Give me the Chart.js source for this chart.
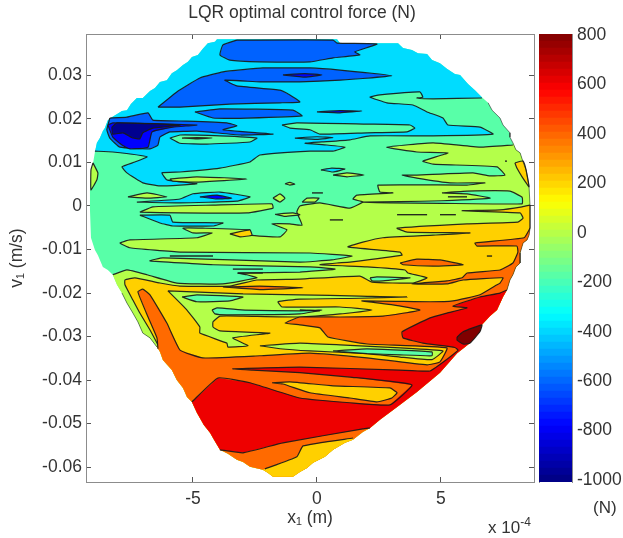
<!DOCTYPE html>
<html><head><meta charset="utf-8">
<script src="https://cdn.jsdelivr.net/npm/chart.js@4"></script>
<style>
html,body{margin:0;padding:0;background:#fff;width:623px;height:538px;overflow:hidden}
canvas{position:absolute;top:0;filter:blur(.4px)}
#main{left:0}#bar{left:530px}
.t{position:absolute;font:17px "Liberation Sans",Arial,sans-serif;color:#333;white-space:nowrap}
sup{font-size:12px;line-height:0}
</style></head><body>
<canvas id="main" width="604" height="538"></canvas>
<canvas id="bar" width="93" height="538"></canvas>
<div class="t" style="left:488px;top:518px">x 10<sup>-4</sup></div>
<div class="t" style="left:593px;top:498px">(N)</div>
<script>
// x in 1e-4 m, y in 1e-3 m/s, contour bands in N
const titleText='LQR optimal control force (N)';
const xTicks=[-5,0,5];
const yTicks=[30,20,10,0,-10,-20,-30,-40,-50,-60];
const yTickLabels=['0.03','0.02','0.01','0','-0.01','-0.02','-0.03','-0.04','-0.05','-0.06'];
const barTicks=[800,600,400,200,0,-200,-400,-600,-800,-1000];

// outline of the reachable region, arc by arc, clockwise
const hullTop=[[-8.95,12.4],[-8.87,14.5],[-8.75,15.6],[-8.63,17.2],[-8.55,17.9],[-8.43,19.7],[-8.27,20.4],[-7.86,21.8],[-7.66,22],[-7.5,23.4],[-7.26,24.8],[-7.02,24.8],[-6.73,26.4],[-6.53,27.1],[-6.33,28.5],[-6.05,28.9],[-5.85,30.5],[-5.65,31.2],[-5.4,32.4],[-5.2,33.1],[-5.04,34.2],[-4.8,34.7],[-4.6,36.1],[-4.4,37.4],[-4.11,37.7],[-4.03,38.3],[.81,38.3],[.93,37.4],[3.27,37.4],[3.47,36.3],[3.83,35.8],[4.07,35.1],[4.44,34.9],[4.64,33.5],[4.96,32.8],[5.24,31.5],[5.56,30.3],[5.77,30.1],[6.09,28],[6.37,26.6],[6.65,25]];
const hullR1=[[6.9,23.7],[7.06,22],[7.38,20.2],[7.5,18.6],[7.78,16.8],[7.78,15.8],[7.9,14.5]];
const hullR2=[[7.9,14.5],[8.02,12.9],[8.19,12.2],[8.31,10.1],[8.43,8.3],[8.55,4.4],[8.59,.2]];
const hullR3=[[8.59,.2],[8.59,-5.1]];
const hullR4=[[8.59,-5.1],[8.55,-6.7],[8.47,-7.8],[8.31,-8.5],[8.19,-10.8],[8.19,-13.1],[8.02,-14],[7.9,-15.8],[7.78,-17],[7.66,-19.3]];
const hullR5=[[7.66,-19.3],[7.5,-20.9],[7.26,-23.9],[6.98,-25.3],[6.65,-27.3],[6.57,-28.9],[6.17,-31.5],[5.97,-32.4],[5.65,-33.8],[4.96,-38.3],[4.03,-42.7],[3.23,-46.2],[2.54,-49.1],[2.14,-51]];
const hullB1=[[2.14,-51],[1.85,-51.9],[1.45,-53.7]];
const hullB2=[[1.45,-53.7],[1.13,-54.4],[.65,-56],[.32,-57.6],[-.16,-59],[-.4,-60.2],[-.69,-61.1],[-.97,-62.2],[-1.77,-62.2],[-1.98,-61.3],[-2.18,-60.6]];
const hullB3=[[-2.18,-60.6],[-2.7,-59.9],[-2.98,-58.8],[-3.23,-58.3],[-3.59,-56.9],[-3.91,-56]];
const hullL1=[[-3.91,-56],[-4.15,-53.7],[-4.31,-52.1],[-4.56,-50.3],[-4.84,-47.5],[-5.04,-45]];
const hullL2=[[-5.04,-45],[-5.24,-43.9],[-5.4,-41.8],[-5.65,-40],[-5.85,-37.7],[-6.21,-35.4],[-6.33,-33.5],[-6.45,-32.4]];
const hullL3=[[-6.45,-32.4],[-6.73,-30.3],[-7.02,-29.2],[-7.22,-26.6],[-7.42,-24.6],[-7.66,-22.3],[-7.86,-20]];
const hullL4=[[-7.86,-20],[-8.06,-18.1],[-8.23,-15.8]];
const hullL5=[[-8.23,-15.8],[-8.43,-14.7],[-8.63,-14],[-8.83,-11.3],[-8.95,-10.1],[-9.11,-7.3],[-9.15,-.9],[-9.15,3.7],[-9.07,8.3],[-8.95,12.4]];

// open contours that meet the outline
const cyanEdge=[[6.65,24.8],[4.68,24.6],[4.03,24.8],[4.27,25],[4.15,26.2],[2.54,25.5],[2.14,25],[2.82,23.7],[3.87,23.2],[4.44,21.6],[5.08,20.2],[5.28,18.6],[6.57,18.1],[7.1,16.5],[4.68,16.1],[2.14,16.1],[1.33,15.2],[.2,14.7],[-.48,14.4],[.4,14],[1.13,13.5],[.65,12.6],[-.28,12.6],[-2.3,11.7],[-2.7,10.1],[-3.91,8.7],[-5.52,7.8],[-6.25,7.6],[-6.05,6],[-4.84,5.1],[-6.33,4.6],[-7.02,5.3],[-7.66,7.6],[-7.86,9],[-7.34,10.1],[-6.85,11.3],[-8.23,12.4],[-8.95,12.6]];
const limeEdge=[[7.9,14],[6.57,13.5],[4.68,14.5],[2.82,13.5],[4.03,12.4],[5.28,12.2],[4.27,10.3],[4.68,9.6],[7.26,9],[7.58,7.1],[6.98,6.9],[6.29,7.6],[4.03,7.1],[3.43,7.1],[4.03,6.4],[5.36,5.3],[6.77,5.3],[6.05,4.8],[2.46,4.8],[2.54,3.2],[3.06,3],[1.61,2.5],[1.45,1.6],[1.85,.9],[1.33,-.5],[.12,.7],[-.69,0],[-.81,-1.4],[-.6,-4.4],[-1.09,-4.1],[-1.81,-4.1],[-1.21,-5.5],[-1.49,-7.1],[-2.7,-6.7],[-2.7,-5.5],[-4.6,-5.1],[-5.4,-5.1],[-5,-6.2],[-4.23,-6.2],[-4.84,-7.3],[-7.54,-7.8],[-7.94,-8.5],[-7.54,-9.6],[-5.52,-10.6],[-.28,-10.8],[1.41,-11.5],[.6,-12.4],[-.69,-12.9],[-6.21,-11.9],[-6.73,-12.6],[-4.19,-13.5],[-.28,-14],[.73,-14.5],[-.69,-15.2],[-3.19,-15.4],[-2.82,-15.8],[-2.42,-16.5],[-3.79,-17.9],[-5.65,-17.7],[-6.85,-15.8],[-7.66,-14.7],[-8.23,-15.8]];
const yellowEdge=[[8.59,.2],[8.27,-.2],[7.38,-.9],[5.85,-1.1],[8.19,-1.6],[8.31,-2.8],[8.1,-3.7],[6.05,-4.1],[3.23,-5.1],[3.63,-6],[6.17,-6.2],[4.68,-6.7],[2.66,-7.3],[1.85,-8.3],[1.25,-9.4],[3.35,-10.6],[3.43,-11.3],[1.33,-12.9],[.81,-13.1],[.12,-13.5],[2.02,-14],[3.55,-14.7],[3.67,-15.4],[4.44,-16.5],[3.87,-17.7],[2.22,-17.5],[1.73,-16.1],[-.69,-16.8],[-2.42,-17],[-3.51,-18.4],[-5.52,-18.4],[-6.33,-17.7],[-7.34,-16.5],[-7.74,-17],[-7.74,-18.1],[-7.42,-21.6],[-7.14,-24.6],[-6.73,-28.5],[-6.41,-31.9]];
const orangeEdge=[[8.59,-5.1],[8.35,-7.3],[6.37,-8.5],[6.45,-9.2],[8.06,-9.2],[8.1,-10.6],[7.9,-13.1],[7.38,-14.7],[6.05,-15.4],[5.85,-16.5],[5.24,-17.2],[3.83,-17.9],[5.24,-17.9],[5.89,-17],[7.5,-16.5],[7.38,-17.7],[7.26,-18.1],[6.57,-20.4],[5.48,-21.8],[4.56,-22],[1.81,-21.8],[3.06,-22.7],[4.15,-23.9],[2.66,-25.3],[.93,-25.5],[-.69,-25.5],[-1.29,-26.9],[-.69,-27.3],[.12,-28],[.44,-30.1],[2.02,-31.7],[5.24,-32.6],[4.96,-35.8],[4.44,-36.5],[2.02,-34.9],[-.28,-33.8],[-2.3,-34.4],[-4.6,-34.9],[-5.52,-33.1],[-6.05,-26.9],[-6.73,-20.4],[-7.02,-19.1],[-7.22,-19.7],[-6.81,-25.5],[-6.45,-30.3],[-6.41,-32.8]];
const redLow=[[2.14,-51],[1.85,-51.2],[-1.37,-54.4],[-2.98,-56.7],[-3.91,-56]];
const redUp=[[-5.04,-45],[-3.99,-39.5],[-2.7,-40.6],[-.69,-44.1],[1.33,-45.2],[2.94,-45.7],[3.83,-41.1],[1.33,-39.3],[-.69,-38.3],[-2.58,-37.7],[-3.39,-37.4],[-.69,-37],[3.35,-37.7],[4.56,-37.9],[5.36,-34.7],[5.69,-33.1],[5.56,-32.5],[4.27,-31.5],[3.47,-30.3],[3.43,-28.9],[4.56,-25.7],[5.24,-24.6],[6.05,-23.4],[5.48,-23],[6.57,-20.9],[7.38,-20],[7.66,-19.3]];
const wedgeEdge=[[-2.1,-60.4],[-.81,-57.6],[-.56,-55.1],[1.45,-53.3]];

// closed contour islands
const aquaTongue=[[-1.41,18.6],[-.81,19.1],[2.02,18.8],[3.75,18.6],[3.95,17.9],[3.63,17],[2.02,16.8],[.12,16.5],[-.28,17.5],[-1.09,17.9]];
const blueTop=[[-3.23,38.1],[-3.79,37],[-3.91,34.7],[-3.51,33.5],[-2.3,33.1],[-.28,33.1],[.65,34],[1.73,34.7],[1.53,35.4],[2.42,37.2],[.81,37.4],[.65,38.1]];
const blueWide=[[-6.41,22.7],[-5.65,26.2],[-4.72,29.4],[-3.79,30.8],[-2.18,31.7],[-.28,31.7],[.93,31.2],[3.02,29.9],[.93,28.9],[-.69,28.5],[-2.3,28.5],[-3.71,28.9],[-3.23,27.6],[-1.49,26.6],[-1.09,25.5],[-.69,23.9],[-1.49,23.7],[-3.51,23.4],[-5.52,22.7]];
const blueSliver1=[[-1.37,30.1],[-.48,30.4],[.2,30.1],[-.48,29.6]];
const blueThin=[[-4.92,21.6],[-3.91,22.3],[-.97,22],[-.6,20.7],[-2.82,20.2],[-4.19,20.2]];
const blueSliver2=[[0,21.6],[.93,21.9],[1.81,21.8],[.93,21.4]];
const blueLeft=[[-8.35,20.2],[-7.66,20.4],[-6.81,21.4],[-6.61,19.7],[-5.24,19.5],[-3.63,19.1],[-3.23,18.4],[-3.79,17.5],[-2.42,16.8],[-1.77,16.5],[-3.1,16.3],[-4.84,17.2],[-5.93,17],[-6.33,15.8],[-6.41,14],[-6.73,13.1],[-7.94,13.5],[-8.35,15.6],[-8.47,17.5]];
const deepBlue=[[-8.43,18.6],[-8.23,19.1],[-4.84,18.6],[-5.81,18.1],[-6.65,17],[-6.81,13.5],[-7.54,13.1],[-7.86,14],[-8.23,15.8]];
const navyCore=[[-8.27,18.1],[-8.06,19.1],[-5.52,18.6],[-6.61,17.9],[-7.02,16.8],[-7.14,15.4],[-7.42,15.6],[-7.82,16.8],[-8.23,16.5]];
const aquaLens=[[-5.93,15.6],[-5.52,16.3],[-3.91,16.1],[-2.42,15.6],[-2.7,14.7],[-4.44,14.2],[-5.52,14.4]];
const limeSliver=[[-5.44,15.6],[-4.84,15.7],[-4.23,15.6],[-4.84,15.4]];
const cyanSliver=[[-.89,15.6],[0,15.9],[.65,15.7],[0,15.3]];
const limeLeft=[[-9.03,9.9],[-8.83,7.6],[-8.87,6],[-9.11,3.7],[-9.11,8.3]];
const limeMid1=[[-5.93,6.2],[-4.84,6.7],[-2.82,6.2],[-4.84,5.5],[-5.81,5.7]];
const cyanDot=[[.16,8.3],[.6,8.7],[1.13,8.5],[.65,7.8]];
const limeMid2=[[.65,7.1],[1.21,7.6],[1.9,7.1],[1.21,6.7]];
const limeDot1=[[-.6,.9],[-.4,1.8],[.08,1.8],[-.08,.9]];
const limeDot2=[[-1.77,1.8],[-1.49,2.8],[-1.29,1.8],[-1.49,.9]];
const limeDot3=[[-1.29,5.1],[-1.09,5.4],[-.89,5],[-1.09,4.8]];
const limeMid3=[[-7.62,2.1],[-6.85,3],[-6.05,2.1],[-6.85,1.8]];
const cyanMid=[[-7.26,.9],[-5.52,1.6],[-5,2.8],[-3.91,3.2],[-2.7,2.1],[-3.23,1.1],[-5.52,.7]];
const blueMid=[[-4.72,2.1],[-4.03,2.5],[-3.43,1.8],[-4.03,1.6]];
const limeBar=[[-7.14,-1.4],[-6.61,-.2],[-4.19,.2],[-1.81,.5],[-1.77,-.5],[-2.82,-1.6],[-5.52,-1.6]];
const cyanLow=[[-7.14,-2.1],[-5.93,-2.1],[-5.81,-3.7],[-3.79,-3.9],[-4.19,-4.6],[-5.81,-4.6],[-6.33,-3.9]];
const limeTick=[[-1.69,-1.9],[-.97,-1.6],[-.69,-2],[-1.29,-2.4]];
const aquaRight=[[5.04,3],[6.05,3.4],[7.78,3.4],[8.27,2],[8.27,.5],[5.04,.6],[2.94,.7],[1.85,.9],[3.35,1],[5.04,1.2],[6.98,1.8],[6.05,2.8]];
const yellowEdgeRight=[[7.98,9.9],[8.31,10.3],[8.43,8.3],[8.55,4.4],[8.27,6.7],[8.06,8.7]];
const yellowDot=[[-3.51,-6.4],[-2.7,-5.5],[-2.62,-6.7],[-3.1,-7.1]];
const limeLarge=[[-6.01,-19.5],[-2.98,-20.2],[-.69,-20.4],[1.73,-20.7],[3.63,-20.9],[1.73,-21.2],[-.69,-21.4],[-1.57,-22],[-1.41,-23.2],[.93,-23.2],[2.22,-23.9],[.93,-24.8],[-.69,-25.5],[-2.98,-25.3],[-3.91,-25.3],[-4.19,-26.6],[-4.19,-27.8],[-3.91,-28.7],[-1.9,-29.2],[-3.39,-30.3],[-2.78,-32.1],[-3.59,-32.4],[-3.63,-31.5],[-4.72,-29.2],[-4.72,-27.8],[-5.24,-23.9]];
const aquaLow1=[[-5.44,-20.9],[-4.84,-20.4],[-2.98,-20.9],[-3.51,-21.8],[-4.84,-22]];
const aquaLow2=[[-4.23,-23.9],[-4.03,-23.4],[-2.9,-23.9],[-.69,-24.1],[.2,-23.9],[-.69,-24.8],[-3.63,-25],[-4.11,-24.8]];
const aquaLow3=[[2.14,-16.5],[2.42,-16.3],[3.75,-16.5],[2.66,-17.2],[2.22,-17.2]];
const limeLens=[[-2.3,-32.1],[-.69,-31.5],[.93,-31.9],[3.35,-32.6],[5.08,-33.3],[4.64,-35.3],[3.35,-34.7],[2.02,-33.9],[-.28,-33.3],[-1.49,-32.8]];
const aquaTip=[[.65,-33.3],[2.02,-32.8],[4.64,-33.5],[4.64,-34.4],[3.35,-34.2],[2.02,-33.9]];
const orangeStrip=[[-3.79,-18.6],[-2.3,-18.4],[-.56,-18.8],[-2.3,-19.2]];
const orangeIsle=[[3.35,-13.1],[4.03,-12.2],[4.96,-12.4],[5.89,-13.5],[4.68,-13.8],[3.47,-13.5]];
const yellowLens=[[-1.81,-40.6],[-1.09,-40.4],[.65,-41.3],[2.94,-41.8],[3.23,-42.9],[3.02,-44.1],[2.42,-45],[1.33,-44.1],[-.28,-42.9],[-1.37,-40.9]];
const darkRedTip=[[5.65,-30.1],[5.89,-28.9],[6.65,-27.3],[6.57,-28.9],[6.17,-31.5],[5.89,-31.7],[5.65,-30.8]];
const shortDashes=[[[3.23,-2],[4.44,-2]],[[4.96,-2],[5.6,-2]],[[.52,-3.2],[1.05,-3.2]],[[-5.93,-11.5],[-4.19,-11.5]],[[-3.39,-14.5],[-2.18,-14.5]],[[-3.19,-15.4],[-2.18,-15.4]],[[-.2,3],[.24,3]],[[5.28,2.1],[6.05,2.1]],[[6.85,-11.5],[7.06,-11.5]],[[-.69,-23.9],[.12,-24.1]],[[7.58,10.3],[7.66,10.3]]];

const NAVY='#00008f',BLUE='#0000ff',MID='#0062ff',CYAN='#00dcff',AQUA='#58ffa8',LIME='#b4ff4a',YEL='#ffd000',ORG='#ff6a00',RED='#ee0000',DRK='#800000';
const rev=a=>a.slice().reverse();
const hullAll=[...hullTop,...hullR1,...hullR2,...hullR3,...hullR4,...hullR5,...hullB1,...hullB2,...hullB3,...hullL1,...hullL2,...hullL3,...hullL4,...hullL5];
// [colour, filled outline, contour line] bottom to top; a missing line means the outline itself
const layers=[
 [AQUA,hullAll,[]],
 [CYAN,[...hullTop,...cyanEdge],cyanEdge],
 [AQUA,aquaTongue],[MID,blueTop],[MID,blueWide],[BLUE,blueSliver1],[MID,blueThin],[BLUE,blueSliver2],
 [MID,blueLeft],[BLUE,deepBlue],[NAVY,navyCore],[AQUA,aquaLens],[LIME,limeSliver],[CYAN,cyanSliver],
 [LIME,limeLeft],[LIME,limeMid1],[CYAN,cyanDot],[LIME,limeMid2],[LIME,limeDot1],[LIME,limeDot2],[LIME,limeDot3],
 [LIME,limeMid3],[CYAN,cyanMid],[BLUE,blueMid],[LIME,limeBar],[CYAN,cyanLow],
 [LIME,[...hullR2,...hullR3,...hullR4,...hullR5,...hullB1,...hullB2,...hullB3,...hullL1,...hullL2,...hullL3,...hullL4,...rev(limeEdge)],limeEdge],
 [LIME,limeTick],[AQUA,aquaRight],[YEL,yellowEdgeRight],[YEL,yellowDot],
 [YEL,[...hullR3,...hullR4,...hullR5,...hullB1,...hullB2,...hullB3,...hullL1,...hullL2,...rev(yellowEdge)],yellowEdge],
 [LIME,limeLarge],[AQUA,aquaLow1],[AQUA,aquaLow2],[AQUA,aquaLow3],[LIME,limeLens],[AQUA,aquaTip],
 [ORG,orangeStrip],[ORG,orangeIsle],
 [ORG,[...hullR4,...hullR5,...hullB1,...hullB2,...hullB3,...hullL1,...hullL2,...rev(orangeEdge)],orangeEdge],
 [RED,[...hullR5,...redLow,...hullL1,...redUp],null],
 [YEL,yellowLens],
 [YEL,[...hullB2,...wedgeEdge],wedgeEdge],
 [DRK,darkRedTip]
];
const pts=a=>a.map(p=>({x:p[0],y:p[1]}));
const base={type:'scatter',showLine:true,pointRadius:0,tension:0};
const lineBase={...base,tension:.12,borderColor:'rgba(25,25,25,.92)',borderWidth:1.2,fill:false};
const ds=[];
layers.forEach(l=>{
  const [c,poly,line]=l;
  ds.push({...base,data:pts(poly),backgroundColor:c,borderWidth:0,fill:'shape'});
  if(line===null){
    ds.push({...lineBase,data:pts(redLow)});
    ds.push({...lineBase,data:pts(redUp)});
  }else{
    const d=line===undefined?[...poly,poly[0]]:line;
    if(d.length) ds.push({...lineBase,data:pts(d)});
  }
});
shortDashes.forEach(d=>ds.push({...lineBase,data:pts(d),borderWidth:1.4}));
[hullR1,hullR2,hullR3,hullR4,hullL3].forEach(a=>ds.push({...base,data:pts(a),borderColor:'rgba(25,25,25,.55)',borderWidth:1,fill:false}));
ds.forEach((d,i)=>d.order=ds.length-i);

const FONT='"Liberation Sans",Arial,sans-serif',INK='#333',FRAME='#8c8c8c',TXT=17.5;
const axisGrid={drawOnChartArea:false,tickLength:-5,tickColor:'#555',tickWidth:1};
const setTicks=v=>s=>{s.ticks=v.map(value=>({value}));};
const xLim={min:-9.31,max:8.75},yLim={min:-63.4,max:39.5};
new Chart(document.getElementById('main'),{
 data:{datasets:ds},
 options:{responsive:false,animation:false,events:[],
  plugins:{legend:{display:false},tooltip:{enabled:false},
   title:{display:true,text:titleText,color:INK,font:{family:FONT,size:TXT,weight:'normal'},padding:{top:3,bottom:10}}},
  scales:{
   x:{type:'linear',position:'bottom',...xLim,grid:axisGrid,border:{color:FRAME},
      afterBuildTicks:setTicks(xTicks),afterFit:s=>{s.height=56},
      ticks:{color:INK,font:{family:FONT,size:TXT},padding:12,maxRotation:0,callback:v=>String(v)},
      title:{display:true,text:'x₁ (m)',color:INK,font:{family:FONT,size:TXT},padding:{top:0,bottom:9}}},
   x2:{type:'linear',position:'top',...xLim,grid:axisGrid,border:{color:FRAME},
      afterBuildTicks:setTicks(xTicks),afterFit:s=>{s.height=0},ticks:{display:false}},
   y:{type:'linear',position:'left',...yLim,grid:axisGrid,border:{color:FRAME},
      afterBuildTicks:setTicks(yTicks),afterFit:s=>{s.width=86},
      ticks:{color:INK,font:{family:FONT,size:TXT},padding:9,callback:v=>yTickLabels[yTicks.indexOf(v)]},
      title:{display:true,text:'v₁ (m/s)',color:INK,font:{family:FONT,size:TXT},padding:{top:7,bottom:0}}},
   y2:{type:'linear',position:'right',...yLim,grid:axisGrid,border:{color:FRAME},
      afterBuildTicks:setTicks(yTicks),afterFit:s=>{s.width=70},ticks:{display:false}}
  }}
});

// colour bar
const jet=t=>{const f=k=>Math.round(255*Math.max(0,Math.min(1,1.5-Math.abs(4*t-k))));return `rgb(${f(3)},${f(2)},${f(1)})`;};
const barMin=-1008,barMax=804,barLevels=64;
const barSets=[];
for(let i=0;i<barLevels;i++){
  barSets.push({data:[[barMin+i*(barMax-barMin)/barLevels,barMin+(i+1)*(barMax-barMin)/barLevels]],
    backgroundColor:jet((i+.5)/barLevels),borderWidth:0,barPercentage:1,categoryPercentage:1,grouped:false});
}
new Chart(document.getElementById('bar'),{
 type:'bar',
 data:{labels:['N'],datasets:barSets},
 options:{responsive:false,animation:false,events:[],
  layout:{padding:{top:34,bottom:56}},
  plugins:{legend:{display:false},tooltip:{enabled:false}},
  scales:{
   x:{display:false},
   yL:{type:'linear',position:'left',min:barMin,max:barMax,grid:{...axisGrid,tickLength:-4},border:{color:FRAME},
      afterBuildTicks:setTicks(barTicks),afterFit:s=>{s.width=9},ticks:{display:false}},
   y:{type:'linear',position:'right',min:barMin,max:barMax,grid:{...axisGrid,tickLength:-4},border:{color:FRAME},
      afterBuildTicks:setTicks(barTicks),afterFit:s=>{s.width=51},
      ticks:{color:INK,font:{family:FONT,size:TXT},padding:9,callback:v=>String(v)}}
  }}
});
</script>
</body></html>
